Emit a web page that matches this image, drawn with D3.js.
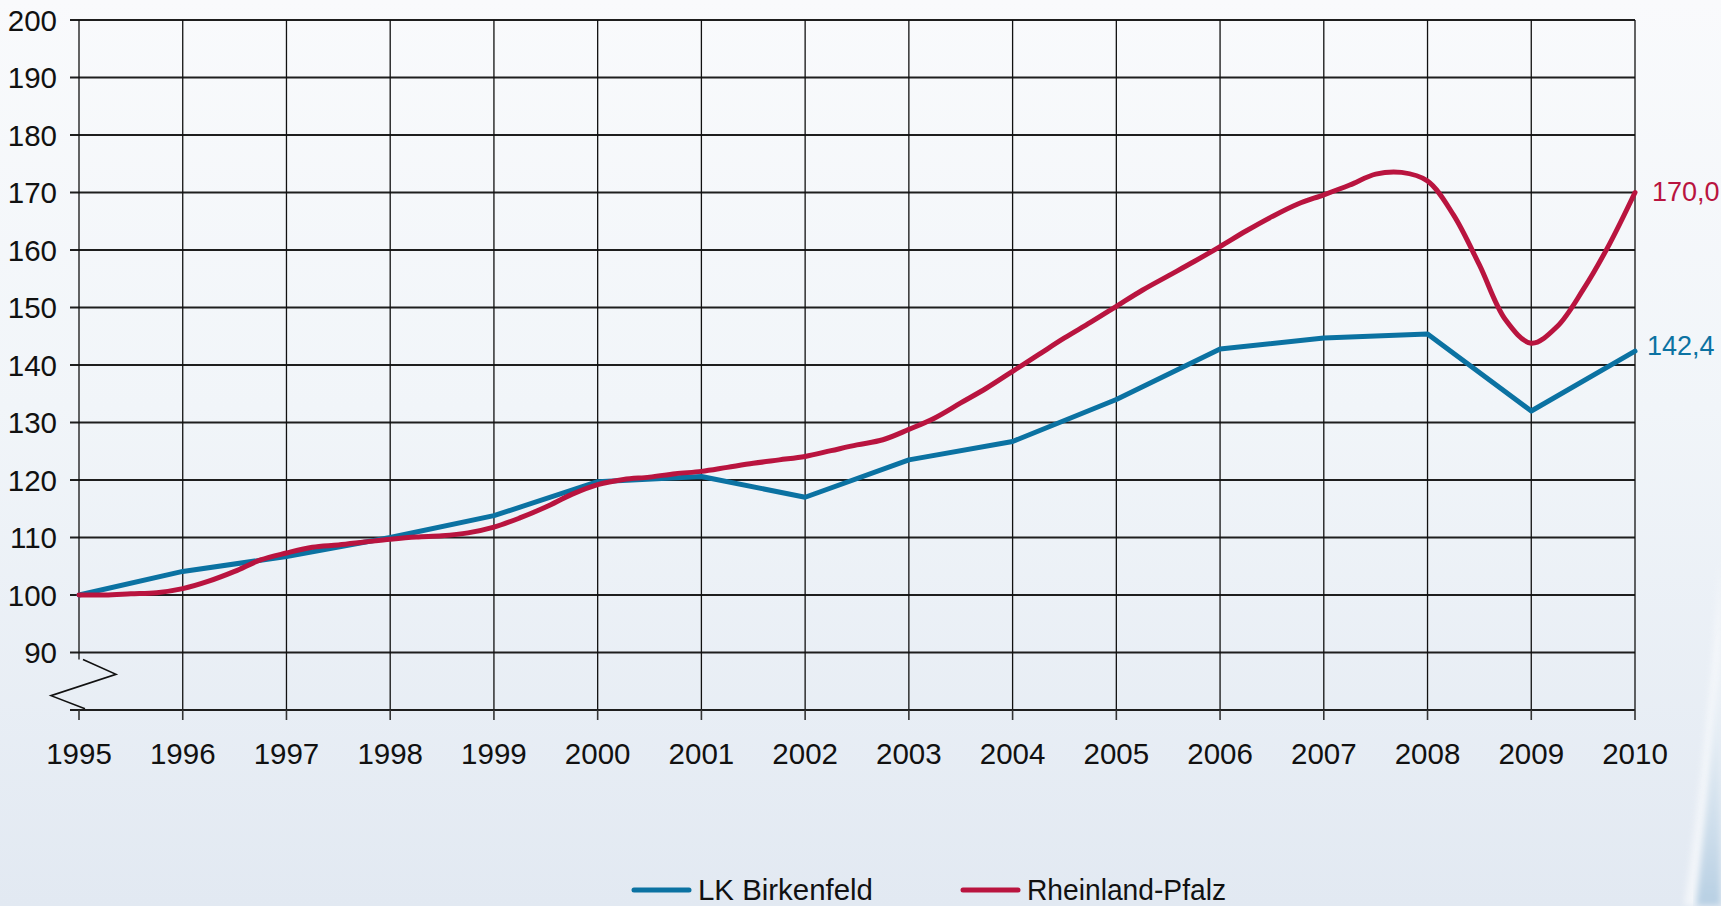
<!DOCTYPE html>
<html>
<head>
<meta charset="utf-8">
<script src="https://cdn.jsdelivr.net/npm/d3@7/dist/d3.min.js"></script>
<style>
  body { margin: 0; overflow: hidden; }
  svg { display: block; }
</style>
</head>
<body>
<svg id="chart" width="1721" height="906"></svg>
<script>
// years on the x axis
var years = [1995, 1996, 1997, 1998, 1999, 2000, 2001, 2002, 2003, 2004, 2005, 2006, 2007, 2008, 2009, 2010];
// y tick labels (axis is broken below 90)
var yTicks = [90, 100, 110, 120, 130, 140, 150, 160, 170, 180, 190, 200];

// LK Birkenfeld, one value per year (1995 = 100)
var birkenfeld = [100.0, 104.1, 106.7, 110.0, 113.8, 119.7, 120.6, 117.0, 123.5, 126.7, 134.0, 142.8, 144.7, 145.4, 132.0, 142.4];

// Rheinland-Pfalz, quarterly values 1995 Q1 ... 2010 Q1
var rlpQuarterly = [
  100.0, 100.0, 100.2, 100.4,
  101.1, 102.4, 104.1, 106.1,
  107.3, 108.3, 108.7, 109.2,
  109.7, 110.1, 110.3, 110.8,
  111.8, 113.4, 115.3, 117.5,
  119.2, 120.1, 120.5, 121.1,
  121.5, 122.2, 122.9, 123.5,
  124.1, 125.1, 126.1, 127.0,
  128.8, 130.8, 133.4, 136.0,
  138.9, 141.8, 144.7, 147.4,
  150.2, 153.0, 155.5, 158.0,
  160.6, 163.3, 165.8, 168.0,
  169.6, 171.3, 173.2, 173.5,
  172.0, 166.1, 157.4, 147.9,
  143.8, 146.7, 153.1, 160.9,
  170.0
];

var seriesNames = ["LK Birkenfeld", "Rheinland-Pfalz"];
var seriesColors = ["#0b72a2", "#b9143f"];
var endLabels = ["142,4", "170,0"];

var svg = d3.select("#chart");
var W = 1721, H = 906;

// background
var defs = svg.append("defs");
var bg = defs.append("linearGradient").attr("id", "bg")
  .attr("x1", 0).attr("y1", 0).attr("x2", 0).attr("y2", 1);
bg.append("stop").attr("offset", "0%").attr("stop-color", "#f9fafc");
bg.append("stop").attr("offset", "45%").attr("stop-color", "#f1f5f9");
bg.append("stop").attr("offset", "100%").attr("stop-color", "#e2e9f2");
var sw = defs.append("linearGradient").attr("id", "swoosh")
  .attr("x1", 0).attr("y1", 0).attr("x2", 0).attr("y2", 1);
sw.append("stop").attr("offset", "0%").attr("stop-color", "#d6e3ee").attr("stop-opacity", 0);
sw.append("stop").attr("offset", "100%").attr("stop-color", "#b7cfe3");
defs.append("filter").attr("id", "blur").append("feGaussianBlur").attr("stdDeviation", 3);

svg.append("rect").attr("width", W).attr("height", H).attr("fill", "url(#bg)");
svg.append("path")
  .attr("d", "M1721,560 C1712,680 1700,800 1684,906 L1721,906 Z")
  .attr("fill", "#ffffff").attr("opacity", 0.55).attr("filter", "url(#blur)");
svg.append("path")
  .attr("d", "M1721,620 C1714,720 1706,820 1696,906 L1721,906 Z")
  .attr("fill", "url(#swoosh)").attr("filter", "url(#blur)");

// scales
var x = d3.scaleLinear().domain([1995, 2010]).range([79, 1635]);
var y = d3.scaleLinear().domain([80, 200]).range([710, 20]);

var g = svg.append("g");

// horizontal grid lines
g.selectAll(".hgrid").data(yTicks).enter().append("line")
  .attr("x1", x(1995) - 9).attr("x2", x(2010))
  .attr("y1", function(d) { return y(d); }).attr("y2", function(d) { return y(d); })
  .attr("stroke", "#1e1e1e").attr("stroke-width", 2.2);

// vertical grid lines (not the first year, that one is the axis)
g.selectAll(".vgrid").data(years.slice(1)).enter().append("line")
  .attr("x1", function(d) { return x(d); }).attr("x2", function(d) { return x(d); })
  .attr("y1", y(200)).attr("y2", y(80))
  .attr("stroke", "#111").attr("stroke-width", 1.3);

// left axis, stops above the break
g.append("line")
  .attr("x1", x(1995)).attr("x2", x(1995))
  .attr("y1", y(200)).attr("y2", y(88.8))
  .attr("stroke", "#111").attr("stroke-width", 1.3);

// axis break zigzag
var x0 = x(1995);
g.append("path")
  .attr("d", "M" + (x0 + 4) + "," + y(88.8) +
             "L" + (x0 + 37) + "," + y(86.2) +
             "L" + (x0 - 28) + "," + y(82.5) +
             "L" + (x0 + 6) + "," + y(80.2))
  .attr("fill", "none").attr("stroke", "#111").attr("stroke-width", 1.6);

// bottom axis
g.append("line")
  .attr("x1", x(1995) - 9).attr("x2", x(2010))
  .attr("y1", y(80)).attr("y2", y(80))
  .attr("stroke", "#1e1e1e").attr("stroke-width", 2.2);
g.selectAll(".xtick").data(years).enter().append("line")
  .attr("x1", function(d) { return x(d); }).attr("x2", function(d) { return x(d); })
  .attr("y1", y(80)).attr("y2", y(80) + 10)
  .attr("stroke", "#333").attr("stroke-width", 1.6);

// tick labels
g.selectAll(".ylab").data(yTicks).enter().append("text")
  .attr("x", 57).attr("y", function(d) { return y(d) + 10.5; })
  .attr("text-anchor", "end")
  .style("font-family", "'Liberation Sans', Arial, sans-serif")
  .style("font-size", "29.5px").attr("fill", "#111")
  .text(function(d) { return d; });

g.selectAll(".xlab").data(years).enter().append("text")
  .attr("x", function(d) { return x(d); }).attr("y", 764)
  .attr("text-anchor", "middle")
  .style("font-family", "'Liberation Sans', Arial, sans-serif")
  .style("font-size", "29.5px").attr("fill", "#111")
  .text(function(d) { return d; });

// lines
var blueLine = d3.line()
  .x(function(d, i) { return x(years[i]); })
  .y(function(d) { return y(d); });

var redLine = d3.line()
  .x(function(d, i) { return x(1995 + i / 4); })
  .y(function(d) { return y(d); })
  .curve(d3.curveCatmullRom.alpha(0.5));

g.append("path").datum(birkenfeld)
  .attr("d", blueLine)
  .attr("fill", "none").attr("stroke", seriesColors[0])
  .attr("stroke-width", 5).attr("stroke-linejoin", "round").attr("stroke-linecap", "round");

g.append("path").datum(rlpQuarterly)
  .attr("d", redLine)
  .attr("fill", "none").attr("stroke", seriesColors[1])
  .attr("stroke-width", 5).attr("stroke-linejoin", "round").attr("stroke-linecap", "round");

// end value labels
var lastB = birkenfeld[birkenfeld.length - 1];
var lastR = rlpQuarterly[rlpQuarterly.length - 1];
g.append("text")
  .attr("x", x(2010) + 12).attr("y", y(lastB) + 4)
  .style("font-family", "'Liberation Sans', Arial, sans-serif")
  .style("font-size", "27px").attr("fill", seriesColors[0])
  .text(endLabels[0]);
g.append("text")
  .attr("x", x(2010) + 17).attr("y", y(lastR) + 8)
  .style("font-family", "'Liberation Sans', Arial, sans-serif")
  .style("font-size", "27px").attr("fill", seriesColors[1])
  .text(endLabels[1]);

// legend
var legendX = [634, 963];
var legendW = [175, 199];
var legend = svg.append("g");
seriesNames.forEach(function(name, i) {
  legend.append("line")
    .attr("x1", legendX[i]).attr("x2", legendX[i] + 55)
    .attr("y1", 890).attr("y2", 890)
    .attr("stroke", seriesColors[i]).attr("stroke-width", 5).attr("stroke-linecap", "round");
  legend.append("text")
    .attr("x", legendX[i] + 64).attr("y", 900)
    .attr("textLength", legendW[i]).attr("lengthAdjust", "spacingAndGlyphs")
    .style("font-family", "'Liberation Sans', Arial, sans-serif")
    .style("font-size", "29px").attr("fill", "#111")
    .text(name);
});
</script>
</body>
</html>
